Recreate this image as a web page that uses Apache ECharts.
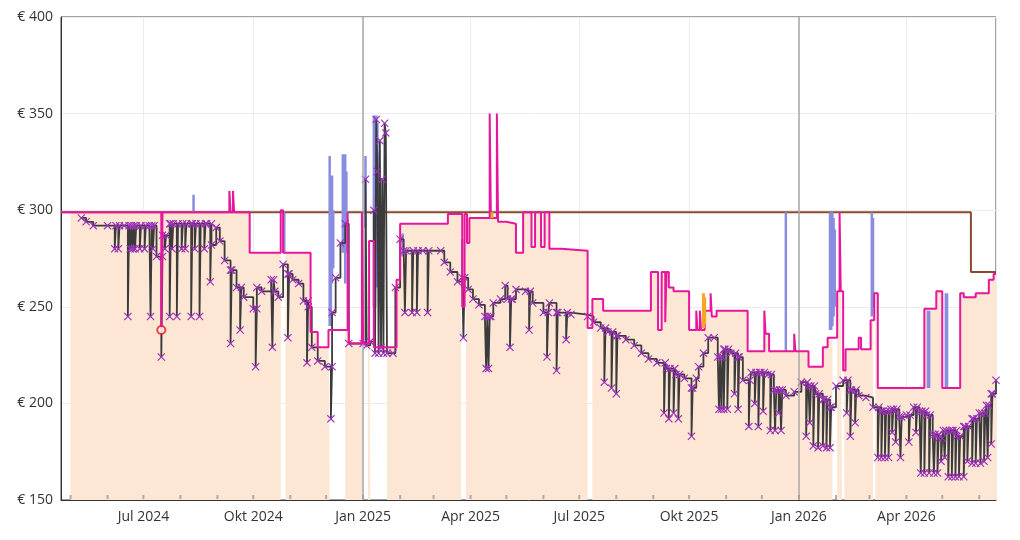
<!DOCTYPE html>
<html>
<head>
<meta charset="utf-8">
<script src="https://cdn.jsdelivr.net/npm/echarts@6/dist/echarts.min.js"></script>
<style>
html, body { margin: 0; padding: 0; background: #fff; }
#chart { width: 1020px; height: 540px; }
</style>
</head>
<body>
<div id="chart"></div>
<script>
var monthNames = ['Jan', 'Feb', 'Mär', 'Apr', 'Mai', 'Jun', 'Jul', 'Aug', 'Sep', 'Okt', 'Nov', 'Dez'];
var axisStart = '2024-04-23', axisEnd = '2026-06-15';
var yearLines = ['2025-01-01', '2026-01-01'];
var monthTicks = [
    '2024-05-01', '2024-06-01', '2024-07-01', '2024-08-01', '2024-09-01', '2024-10-01', '2024-11-01',
    '2024-12-01', '2025-01-01', '2025-02-01', '2025-03-01', '2025-04-01', '2025-05-01', '2025-06-01',
    '2025-07-01', '2025-08-01', '2025-09-01', '2025-10-01', '2025-11-01', '2025-12-01', '2026-01-01',
    '2026-02-01', '2026-03-01', '2026-04-01', '2026-05-01', '2026-06-01'
];

// Listenpreis (brown)
var listPrice = [['2024-04-23', 299], ['2026-05-25', 268], ['2026-06-15', 268]];

// Neu, Versand durch Amazon (magenta)
var newFba = [
    ['2024-04-23', 299],
    ['2024-07-16', 238], ['2024-07-17', 299],
    ['2024-09-11', 310], ['2024-09-12', 299], ['2024-09-14', 310], ['2024-09-15', 299],
    ['2024-09-28', 278],
    ['2024-10-24', 300], ['2024-10-26', 278],
    ['2024-11-18', 237], ['2024-11-24', 229], ['2024-12-03', 238],
    ['2024-12-19', 299], ['2024-12-20', 231],
    ['2024-12-31', 299], ['2025-01-01', 231], ['2025-01-06', 284], ['2025-01-10', 229],
    ['2025-01-29', 264], ['2025-02-01', 293],
    ['2025-03-13', 298], ['2025-03-25', 250], ['2025-03-27', 298], ['2025-03-29', 283], ['2025-03-31', 296],
    ['2025-04-17', 350], ['2025-04-18', 296], ['2025-04-23', 350], ['2025-04-24', 294],
    ['2025-05-01', 293], ['2025-05-09', 278], ['2025-05-15', 299], ['2025-05-22', 281], ['2025-05-25', 299],
    ['2025-05-30', 281], ['2025-06-02', 299], ['2025-06-06', 280], ['2025-06-16', 279],
    ['2025-07-08', 239], ['2025-07-12', 254], ['2025-07-21', 248],
    ['2025-08-30', 268], ['2025-09-05', 238], ['2025-09-08', 268], ['2025-09-11', 242], ['2025-09-12', 268],
    ['2025-09-14', 260], ['2025-09-18', 258],
    ['2025-10-01', 238], ['2025-10-07', 248], ['2025-10-08', 238], ['2025-10-10', 248], ['2025-10-11', 238],
    ['2025-10-14', 248], ['2025-10-19', 257], ['2025-10-20', 245], ['2025-10-24', 248],
    ['2025-11-19', 227], ['2025-12-03', 248], ['2025-12-04', 236], ['2025-12-07', 227],
    ['2025-12-28', 236], ['2025-12-29', 227],
    ['2026-01-09', 219], ['2026-01-21', 229], ['2026-01-25', 234],
    ['2026-02-02', 258], ['2026-02-04', 299], ['2026-02-05', 258], ['2026-02-07', 217], ['2026-02-09', 228],
    ['2026-02-20', 234], ['2026-02-22', 228],
    ['2026-03-02', 243], ['2026-03-05', 257], ['2026-03-08', 208],
    ['2026-04-16', 249], ['2026-04-26', 258], ['2026-05-01', 208],
    ['2026-05-16', 257], ['2026-05-19', 255], ['2026-05-29', 257], ['2026-06-09', 264], ['2026-06-13', 267],
    ['2026-06-15', 267]
];

// days without the shaded area
var areaGaps = [
    ['2024-04-23', '2024-05-01'], ['2024-10-24', '2024-10-28'], ['2024-12-04', '2024-12-17'],
    ['2025-01-01', '2025-01-05'], ['2025-01-07', '2025-01-21'], ['2025-03-24', '2025-03-28'],
    ['2025-07-08', '2025-07-12'], ['2026-01-29', '2026-02-02'], ['2026-02-06', '2026-02-08'],
    ['2026-03-04', '2026-03-06']
];

// Neu (blue): date, high, low
var newOffers = [
    ['2024-08-12', 308, 299],
    ['2024-10-27', 299, 278],
    ['2024-12-04', 328, 240], ['2024-12-05', 318, 240], ['2024-12-06', 318, 262], ['2024-12-07', 300, 270],
    ['2024-12-15', 329, 278], ['2024-12-16', 329, 278], ['2024-12-17', 329, 262], ['2024-12-18', 320, 278],
    ['2025-01-03', 328, 291],
    ['2025-01-10', 349, 250], ['2025-01-11', 349, 250], ['2025-01-12', 349, 260], ['2025-01-13', 345, 260],
    ['2025-01-14', 330, 270],
    ['2025-02-03', 288, 276],
    ['2025-03-25', 285, 260],
    ['2025-12-21', 299, 227],
    ['2026-01-27', 299, 238], ['2026-01-28', 299, 238], ['2026-01-29', 299, 240], ['2026-01-30', 296, 245],
    ['2026-01-31', 290, 250],
    ['2026-03-03', 299, 245], ['2026-03-04', 296, 250],
    ['2026-04-19', 248, 208], ['2026-04-20', 248, 208],
    ['2026-05-04', 257, 208], ['2026-05-05', 257, 208]
];

// Amazon (orange): date, high, low
var amazon = [['2025-04-19', 299, 296], ['2025-10-13', 257, 239], ['2025-10-14', 255, 241]];

// Gebraucht / Warehouse: main course and short drops
var usedTrend = [
    ['2024-05-10', 296], ['2024-05-14', 294], ['2024-05-20', 292], ['2024-06-01', 292], ['2024-06-15', 292],
    ['2024-07-06', 292], ['2024-07-12', 276], ['2024-07-17', 287], ['2024-07-23', 293], ['2024-08-10', 293],
    ['2024-08-23', 293], ['2024-08-27', 282], ['2024-08-31', 291], ['2024-09-03', 284], ['2024-09-07', 274],
    ['2024-09-12', 269], ['2024-09-17', 260], ['2024-09-23', 255], ['2024-10-01', 249], ['2024-10-04', 260],
    ['2024-10-08', 258], ['2024-10-16', 264], ['2024-10-19', 258], ['2024-10-22', 255], ['2024-10-26', 272],
    ['2024-10-30', 267], ['2024-11-03', 264], ['2024-11-08', 262], ['2024-11-12', 253], ['2024-11-16', 250],
    ['2024-11-19', 229], ['2024-11-24', 222], ['2024-11-30', 219], ['2024-12-06', 247], ['2024-12-09', 265],
    ['2024-12-13', 283], ['2024-12-17', 293], ['2024-12-20', 231], ['2025-01-01', 231],
    ['2025-01-03', 316], ['2025-01-04', 230], ['2025-01-07', 232], ['2025-01-10', 300], ['2025-01-11', 226],
    ['2025-01-12', 347], ['2025-01-13', 320], ['2025-01-14', 226], ['2025-01-15', 336], ['2025-01-16', 229],
    ['2025-01-17', 316], ['2025-01-18', 226], ['2025-01-19', 345], ['2025-01-20', 340], ['2025-01-21', 226],
    ['2025-01-26', 226], ['2025-01-28', 260], ['2025-02-01', 285], ['2025-02-04', 279], ['2025-02-20', 279],
    ['2025-03-07', 279], ['2025-03-10', 273], ['2025-03-15', 268], ['2025-03-21', 263], ['2025-03-25', 265],
    ['2025-03-30', 259], ['2025-04-03', 254], ['2025-04-08', 251], ['2025-04-13', 245], ['2025-04-18', 245],
    ['2025-04-20', 252], ['2025-04-26', 254], ['2025-04-30', 261], ['2025-05-02', 254], ['2025-05-06', 254],
    ['2025-05-09', 259], ['2025-05-17', 258], ['2025-05-23', 252], ['2025-06-01', 247], ['2025-06-06', 252],
    ['2025-06-12', 247], ['2025-06-24', 246], ['2025-07-08', 245], ['2025-07-13', 242], ['2025-07-19', 239],
    ['2025-07-25', 237], ['2025-08-01', 235], ['2025-08-09', 233], ['2025-08-16', 230], ['2025-08-22', 226],
    ['2025-08-28', 223], ['2025-09-04', 221], ['2025-09-12', 218], ['2025-09-20', 215], ['2025-09-27', 213],
    ['2025-10-03', 208], ['2025-10-07', 213], ['2025-10-09', 219], ['2025-10-13', 226], ['2025-10-17', 234],
    ['2025-10-22', 234], ['2025-10-25', 224], ['2025-10-30', 228], ['2025-11-05', 226], ['2025-11-11', 224],
    ['2025-11-15', 212], ['2025-11-22', 216], ['2025-11-30', 216], ['2025-12-06', 215], ['2025-12-11', 207],
    ['2025-12-21', 204], ['2025-12-28', 206], ['2026-01-03', 211], ['2026-01-09', 209], ['2026-01-15', 205],
    ['2026-01-21', 202], ['2026-01-27', 198], ['2026-02-01', 209], ['2026-02-07', 212], ['2026-02-13', 207],
    ['2026-02-20', 204], ['2026-02-26', 203], ['2026-03-04', 198], ['2026-03-11', 196], ['2026-03-19', 197],
    ['2026-03-26', 193], ['2026-04-01', 194], ['2026-04-07', 198], ['2026-04-12', 196], ['2026-04-18', 194],
    ['2026-04-23', 184], ['2026-04-28', 182], ['2026-05-02', 186], ['2026-05-09', 186], ['2026-05-13', 183],
    ['2026-05-19', 188], ['2026-05-26', 192], ['2026-06-01', 195], ['2026-06-07', 199], ['2026-06-11', 205],
    ['2026-06-15', 212]
];
var usedDips = [
    ['2024-06-07', 280], ['2024-06-10', 280], ['2024-06-18', 245], ['2024-06-20', 280], ['2024-06-22', 280],
    ['2024-06-24', 280], ['2024-06-28', 280], ['2024-07-02', 280],
    ['2024-07-07', 245], ['2024-07-09', 280], ['2024-07-16', 224], ['2024-07-19', 280], ['2024-07-23', 245],
    ['2024-07-25', 280], ['2024-07-29', 245], ['2024-08-02', 280], ['2024-08-05', 280], ['2024-08-10', 245],
    ['2024-08-13', 280], ['2024-08-17', 245], ['2024-08-21', 280],
    ['2024-08-26', 263], ['2024-09-12', 231], ['2024-09-20', 238], ['2024-10-03', 219], ['2024-10-17', 229],
    ['2024-10-30', 234], ['2024-11-15', 221], ['2024-12-05', 192],
    ['2025-02-05', 247], ['2025-02-11', 247], ['2025-02-15', 247], ['2025-02-24', 247],
    ['2025-03-26', 234], ['2025-04-14', 218], ['2025-04-16', 218], ['2025-05-04', 229], ['2025-05-20', 238],
    ['2025-06-04', 224], ['2025-06-12', 217], ['2025-06-20', 233],
    ['2025-07-22', 211], ['2025-07-28', 208], ['2025-08-01', 205],
    ['2025-09-10', 195], ['2025-09-14', 192], ['2025-09-18', 195], ['2025-09-22', 192],
    ['2025-10-03', 183], ['2025-10-26', 197], ['2025-10-28', 197], ['2025-10-30', 197], ['2025-11-02', 197],
    ['2025-11-08', 205], ['2025-11-11', 197], ['2025-11-20', 188], ['2025-11-25', 200], ['2025-11-28', 188],
    ['2025-12-02', 196], ['2025-12-08', 186], ['2025-12-12', 186], ['2025-12-15', 195], ['2025-12-17', 186],
    ['2026-01-07', 183], ['2026-01-10', 190], ['2026-01-13', 178], ['2026-01-17', 177], ['2026-01-21', 178],
    ['2026-01-24', 177], ['2026-01-27', 177], ['2026-02-10', 195], ['2026-02-13', 183], ['2026-02-17', 190],
    ['2026-03-08', 172], ['2026-03-11', 172], ['2026-03-14', 172], ['2026-03-17', 172], ['2026-03-20', 185],
    ['2026-03-23', 180], ['2026-03-27', 172], ['2026-04-03', 180], ['2026-04-09', 185],
    ['2026-04-13', 164], ['2026-04-16', 164], ['2026-04-20', 164], ['2026-04-24', 164], ['2026-04-27', 164],
    ['2026-04-30', 170], ['2026-05-03', 172],
    ['2026-05-06', 162], ['2026-05-09', 162], ['2026-05-12', 162], ['2026-05-15', 162], ['2026-05-19', 162],
    ['2026-05-22', 170], ['2026-05-26', 169], ['2026-05-29', 169], ['2026-06-02', 169], ['2026-06-05', 170],
    ['2026-06-08', 172], ['2026-06-11', 179]
];

var lowest = ['2024-07-16', 238];

var DAY = 86400000;
function ts(d) {
    if (echarts.time && echarts.time.parse) return echarts.time.parse(d).getTime();
    return new Date(d + 'T00:00:00').getTime();
}

// step area under the FBA price, interrupted on gap days
function buildArea(steps, gaps, cap) {
    var ev = [];
    steps.forEach(function (p) { ev.push({ t: ts(p[0]), v: p[1], k: 1 }); });
    gaps.forEach(function (g) {
        ev.push({ t: ts(g[0]), k: 0 });
        ev.push({ t: ts(g[1]), k: 2 });
    });
    ev.sort(function (a, b) { return a.t - b.t || a.k - b.k; });
    var out = [], cur = null, inGap = 0;
    ev.forEach(function (e) {
        if (e.k === 1) {
            cur = Math.min(e.v, cap);
            if (!inGap) out.push([e.t, cur]);
        } else if (e.k === 0) {
            if (cur != null && !inGap) out.push([e.t, cur]);
            out.push([e.t, null]);
            inGap++;
        } else {
            inGap--;
            if (!inGap && cur != null) out.push([e.t, cur]);
        }
    });
    return out;
}

function buildUsed(trend, dips) {
    var ev = trend.map(function (p) { return { t: ts(p[0]), v: p[1], dip: 0 }; })
        .concat(dips.map(function (p) { return { t: ts(p[0]), v: p[1], dip: 1 }; }));
    ev.sort(function (a, b) { return a.t - b.t || a.dip - b.dip; });
    var out = [], cur = null;
    ev.forEach(function (e) {
        if (!e.dip) {
            cur = e.v;
            out.push([e.t, cur]);
        } else {
            out.push([e.t, e.v]);
            if (cur != null) out.push([e.t + DAY, cur]);
        }
    });
    return out;
}

function buildSpikes(list) {
    var out = [];
    list.forEach(function (s) {
        out.push([s[0], s[1]], [s[0], s[2]], [s[0], null]);
    });
    return out;
}

var xMark = 'path://M0,1L1,0L5,4L9,0L10,1L6,5L10,9L9,10L5,6L1,10L0,9L4,5Z';

var myChart = echarts.init(document.getElementById('chart'));
var option = {
    animation: false,
    textStyle: { fontFamily: 'Open Sans' },
    grid: {
        left: 61, right: 24, top: 17, bottom: 40,
        show: true, borderColor: '#444', borderWidth: 1,
        containLabel: false, outerBoundsMode: 'none'
    },
    xAxis: {
        type: 'time',
        min: ts(axisStart), max: ts(axisEnd),
        minInterval: 85 * DAY, maxInterval: 100 * DAY,
        axisLine: { lineStyle: { color: '#333' } },
        axisTick: { show: false },
        axisLabel: {
            color: '#333', fontSize: 14, margin: 10, hideOverlap: false,
            formatter: function (v) {
                var d = new Date(v);
                return monthNames[d.getMonth()] + ' ' + d.getFullYear();
            }
        },
        splitLine: { show: true, lineStyle: { color: '#ececec' } }
    },
    yAxis: {
        type: 'value', min: 150, max: 400, interval: 50,
        axisLine: { show: true, lineStyle: { color: '#333' } },
        axisTick: { show: false },
        axisLabel: { color: '#333', fontSize: 14, formatter: '€ {value}' },
        splitLine: { lineStyle: { color: '#ececec' } }
    },
    series: [
        {
            name: 'Amazon', type: 'line', step: 'end', silent: true, z: 1,
            data: buildArea(newFba, areaGaps, 299),
            symbol: 'none',
            lineStyle: { width: 0 },
            areaStyle: { color: '#fde6d3', opacity: 1, origin: 'start' }
        },
        {
            name: 'Listenpreis', type: 'line', step: 'end', z: 2,
            data: listPrice, symbol: 'none',
            lineStyle: { color: '#8b4b2e', width: 2 },
            markLine: {
                silent: true, symbol: 'none', label: { show: false },
                lineStyle: { color: '#a9a9a9', width: 1.5, type: 'solid' },
                data: yearLines.map(function (d) { return { xAxis: ts(d) }; })
            }
        },
        {
            name: 'Neu', type: 'line', z: 3,
            data: buildSpikes(newOffers), symbol: 'none',
            lineStyle: { color: '#8a8ce0', width: 2.5 }
        },
        {
            name: 'Gebraucht', type: 'line', step: 'end', z: 4,
            data: buildUsed(usedTrend, usedDips),
            symbol: xMark, symbolSize: 8, showSymbol: true,
            itemStyle: { color: '#9b30b9' },
            lineStyle: { color: '#3b3b3b', width: 1.8 }
        },
        {
            name: 'Neu FBA', type: 'line', step: 'end', z: 5,
            data: newFba, symbol: 'none',
            lineStyle: { color: '#e6179d', width: 2 }
        },
        {
            name: 'Amazon Preis', type: 'line', z: 6,
            data: buildSpikes(amazon), symbol: 'none',
            lineStyle: { color: '#f5a623', width: 3 }
        },
        {
            name: 'Tiefstpreis', type: 'scatter', z: 7,
            data: [lowest], symbol: 'circle', symbolSize: 8,
            itemStyle: { color: '#ffffff', borderColor: '#e8141e', borderWidth: 2 }
        },
        {
            name: 'Monate', type: 'scatter', z: 8, silent: true,
            data: monthTicks.map(function (d) { return [d, 150]; }),
            symbol: 'rect', symbolSize: [2, 4], symbolOffset: [0, -3],
            itemStyle: { color: '#9a9a9a' }
        }
    ]
};
option && myChart.setOption(option);
</script>
</body>
</html>
